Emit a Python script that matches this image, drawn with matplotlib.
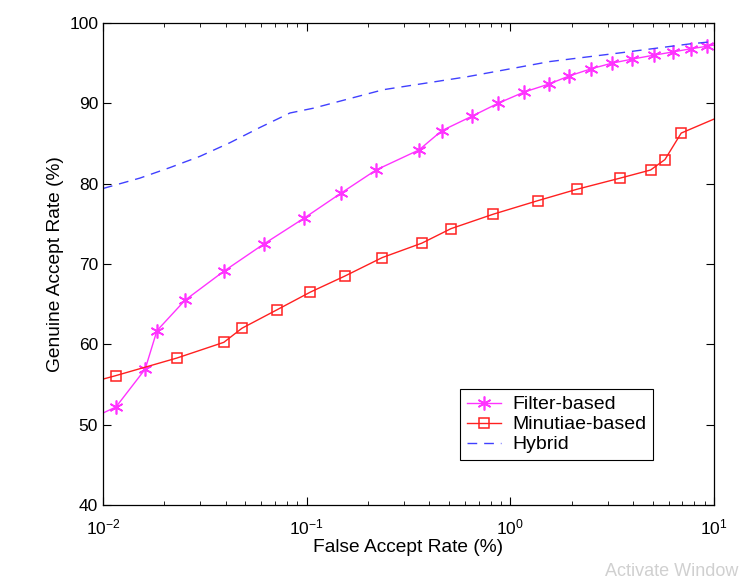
import matplotlib
matplotlib.use("Agg")
import matplotlib.pyplot as plt
from matplotlib.ticker import LogLocator, NullFormatter, FixedLocator

plt.rcParams['font.family'] = ['Liberation Sans', 'DejaVu Sans']
plt.rcParams['mathtext.fontset'] = 'custom'
plt.rcParams['mathtext.rm'] = 'Liberation Sans'
plt.rcParams['mathtext.it'] = 'Liberation Sans'
plt.rcParams['mathtext.default'] = 'regular'

# Filter-based (magenta stars)
filter_far = [0.008, 0.01158, 0.0161, 0.0184, 0.0253, 0.0392, 0.0617, 0.097, 0.147, 0.219,
              0.356, 0.461, 0.648, 0.869, 1.166, 1.546, 1.94, 2.49, 3.15, 3.95,
              5.07, 6.28, 7.7, 9.2, 12.0]
filter_gar = [50.3, 52.2, 56.9, 61.7, 65.5, 69.1, 72.5, 75.7, 78.8, 81.7,
              84.2, 86.6, 88.4, 90.0, 91.4, 92.4, 93.4, 94.3, 95.0, 95.5,
              96.0, 96.4, 96.8, 97.1, 97.6]

# Minutiae-based (red squares)
minu_far = [0.008, 0.01154, 0.0231, 0.0392, 0.0481, 0.0715, 0.1042, 0.154, 0.235, 0.368,
            0.511, 0.824, 1.37, 2.12, 3.47, 4.88, 5.74, 6.9, 12.0]
minu_gar = [55.0, 56.1, 58.3, 60.25, 62.0, 64.3, 66.5, 68.5, 70.8, 72.6,
            74.4, 76.2, 77.9, 79.3, 80.7, 81.7, 83.0, 86.3, 88.9]

# Hybrid (blue dashed)
hyb_far = [0.01, 0.0152, 0.0213, 0.0299, 0.042, 0.059, 0.0828, 0.108, 0.238, 0.61,
           1.56, 3.5, 7.6, 10.0]
hyb_gar = [79.4, 80.7, 82.0, 83.4, 85.1, 87.0, 88.8, 89.4, 91.7, 93.3,
           95.2, 96.3, 97.4, 97.7]

fig = plt.figure(figsize=(7.42, 5.77), dpi=100)
ax = fig.add_axes([0.1388, 0.1248, 0.8235, 0.8353])

ax.plot(filter_far, filter_gar, color='#ff33ff', lw=1.0, marker=(6, 2, 0), ms=10,
        markeredgewidth=1.2, label='Filter-based')
ax.plot(minu_far, minu_gar, color='#ff2020', lw=1.0, marker='s', ms=7,
        markerfacecolor='none', markeredgewidth=1.1, label='Minutiae-based')
ax.plot(hyb_far, hyb_gar, color='#4040ff', lw=1.0, linestyle=(0, (7, 5)),
        label='Hybrid')

ax.set_xscale('log')
ax.set_xlim(0.01, 10)
ax.set_ylim(40, 100)
ax.yaxis.set_major_locator(FixedLocator([40, 50, 60, 70, 80, 90, 100]))
ax.xaxis.set_major_locator(LogLocator(base=10, numticks=10))
ax.xaxis.set_minor_locator(LogLocator(base=10, subs=range(2, 10), numticks=20))
ax.xaxis.set_minor_formatter(NullFormatter())

ax.tick_params(which='both', direction='in', top=True, right=True, labelsize=12.5)
ax.tick_params(which='major', length=6, width=0.8)
ax.tick_params(which='minor', length=3, width=0.6)
ax.tick_params(axis='x', which='major', pad=9)
ax.tick_params(axis='y', which='major', pad=3.5)
for s in ax.spines.values():
    s.set_linewidth(0.9)

ax.set_xlabel('False Accept Rate (%)', fontsize=13.8, labelpad=1)
ax.set_ylabel('Genuine Accept Rate (%)', fontsize=13.8, labelpad=4)

leg = ax.legend(loc='lower right', bbox_to_anchor=(0.900, 0.093), borderaxespad=0,
                fontsize=14, frameon=True, fancybox=False, edgecolor='black',
                framealpha=1, handlelength=1.75, handletextpad=0.55,
                borderpad=0.35, labelspacing=0.12)
leg.get_frame().set_linewidth(0.8)

fig.text(0.815, -0.005, 'Activate Window', color='#d0d0d0', fontsize=13,
         ha='left', va='bottom')

fig.savefig('out.png', dpi=100)
